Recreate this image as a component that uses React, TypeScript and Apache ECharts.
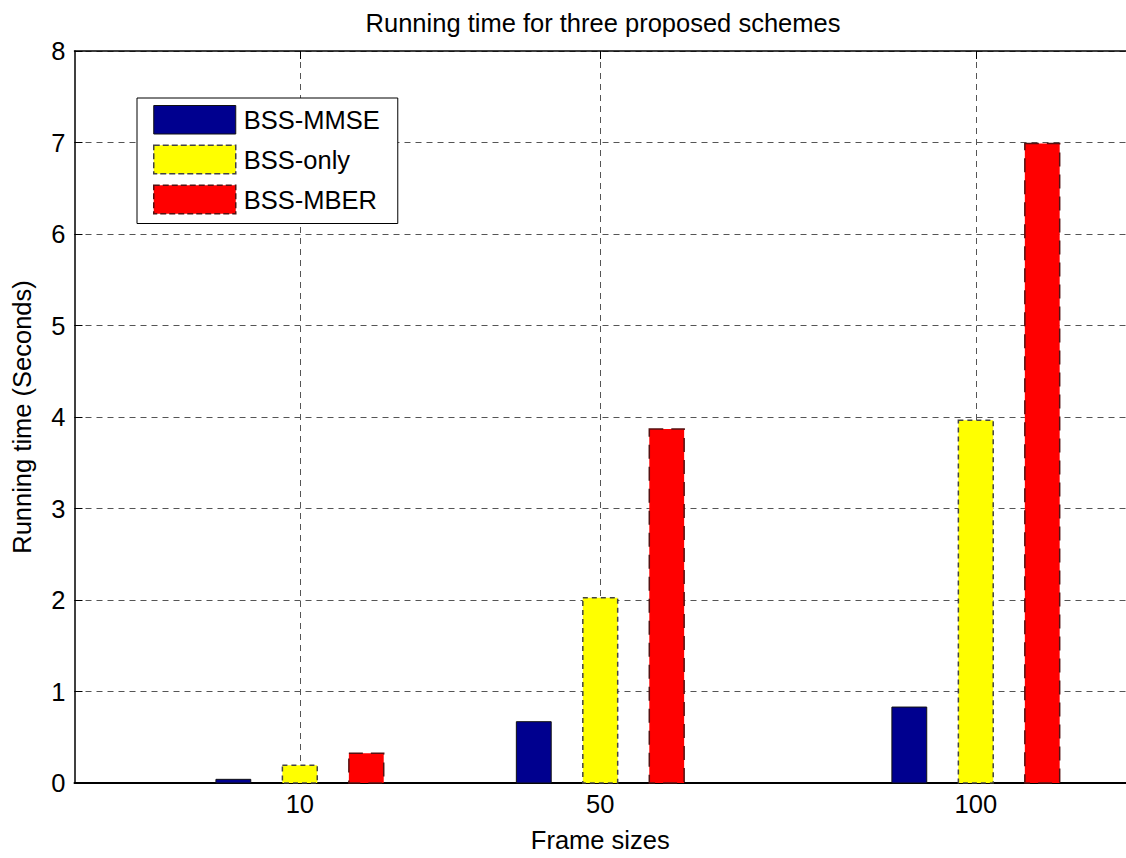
import React, { useEffect, useRef } from "react";
import * as echarts from "echarts";

const frameSizes = [10, 50, 100];
const seriesNames = ["BSS-MMSE", "BSS-only", "BSS-MBER"];
const bssMmse = [0.04, 0.67, 0.83];
const bssOnly = [0.195, 2.025, 3.965];
const bssMber = [0.325, 3.87, 6.99];
const yTicks = [0, 1, 2, 3, 4, 5, 6, 7, 8];

const FONT = "'Liberation Sans', Arial, Helvetica, sans-serif";
const FS = 25.5;
const BAR_W = 4.64; // in x-axis units
const OFFSETS = [-8.85, 0, 8.85];

const styles = [
  { fill: "#00008F", stroke: "#111111", lineWidth: 1, lineDash: null as any },
  { fill: "#FFFF00", stroke: "#444444", lineWidth: 1.5, lineDash: [5, 4] },
  { fill: "#FF0000", stroke: "#551111", lineWidth: 1.5, lineDash: [14, 8] },
];

export default function App() {
  const ref = useRef<HTMLDivElement>(null);
  useEffect(() => {
    document.body.style.margin = "0";
    const chart = echarts.init(ref.current!, undefined, { renderer: "svg" });
    const allValues = [bssMmse, bssOnly, bssMber];
    const series = allValues.map((vals, si) => ({
      name: seriesNames[si],
      type: "custom",
      xAxisIndex: 0,
      yAxisIndex: 0,
      itemStyle: {
        color: styles[si].fill,
        borderColor: styles[si].stroke,
        borderWidth: styles[si].lineWidth,
        borderType: styles[si].lineDash ? "dashed" : "solid",
      },
      data: frameSizes.map((f, i) => [f, vals[i]]),
      renderItem: (params: any, api: any) => {
        const x = api.value(0) + OFFSETS[si];
        const y = api.value(1);
        const top = api.coord([x, y]);
        const bot = api.coord([x, 0]);
        const w = api.size([BAR_W, 0])[0];
        return {
          type: "rect",
          shape: { x: top[0] - w / 2, y: top[1], width: w, height: bot[1] - top[1] },
          style: {
            fill: styles[si].fill,
            stroke: styles[si].stroke,
            lineWidth: styles[si].lineWidth,
            lineDash: styles[si].lineDash || undefined,
          },
          z2: 10,
        };
      },
      z: 5,
    }));

    chart.setOption({
      animation: false,
      backgroundColor: "#ffffff",
      textStyle: { fontFamily: FONT },
      title: {
        text: "Running time for three proposed schemes",
        left: 598,
        textAlign: "center",
        top: 5,
        textStyle: { fontFamily: FONT, fontSize: FS, fontWeight: "normal", color: "#000" },
      },
      grid: { left: 74.5, top: 51, width: 1056, height: 737.3, containLabel: false },
      legend: {
        orient: "vertical",
        left: 137,
        top: 98,
        padding: [7, 18, 9, 16],
        itemGap: 10,
        itemWidth: 82,
        itemHeight: 28.5,
        backgroundColor: "#ffffff",
        borderColor: "#000000",
        borderWidth: 1,
        icon: "rect",
        textStyle: { fontFamily: FONT, fontSize: FS, color: "#000", padding: [0, 0, 0, 3] },
        data: seriesNames.map((n, i) => ({
          name: n,
          itemStyle: {
            color: styles[i].fill,
            borderColor: styles[i].stroke,
            borderWidth: styles[i].lineWidth,
            borderType: styles[i].lineDash ? "dashed" : "solid",
          },
        })),
        z: 20,
      },
      xAxis: [
        {
          type: "value",
          min: -20,
          max: 120,
          position: "bottom",
          name: "Frame sizes",
          nameLocation: "middle",
          nameGap: 44,
          nameTextStyle: { fontFamily: FONT, fontSize: FS, color: "#000" },
          axisLine: { show: true, onZero: false, lineStyle: { color: "#000", width: 2 } },
          axisTick: { show: true, inside: true, length: 8, customValues: frameSizes, lineStyle: { color: "#000" } },
          axisLabel: { show: true, customValues: frameSizes, margin: 8, fontFamily: FONT, fontSize: FS, color: "#000" },
          splitLine: { show: true, lineStyle: { color: "#555", width: 1, type: [6, 5] } },
        },
        {
          type: "value",
          min: -20,
          max: 120,
          position: "top",
          axisLine: { show: true, onZero: false, lineStyle: { color: "#000", width: 1.5 } },
          axisTick: { show: true, inside: true, length: 8, customValues: frameSizes, lineStyle: { color: "#000" } },
          axisLabel: { show: false },
          splitLine: { show: false },
        },
      ],
      yAxis: {
        type: "value",
        min: 0,
        max: 8,
        interval: 1,
        name: "Running time (Seconds)",
        nameLocation: "middle",
        nameGap: 40,
        nameTextStyle: { fontFamily: FONT, fontSize: FS, color: "#000" },
        axisLine: { show: true, onZero: false, lineStyle: { color: "#000", width: 1.5 } },
        axisTick: { show: true, inside: true, length: 8, lineStyle: { color: "#000" } },
        axisLabel: {
          margin: 9,
          fontFamily: FONT,
          fontSize: FS,
          color: "#000",
          formatter: (v: number) => (yTicks.includes(v) ? String(v) : ""),
        },
        splitLine: { show: true, lineStyle: { color: "#555", width: 1, type: [6, 5] } },
      },
      series,
    });
    return () => chart.dispose();
  }, []);
  return <div ref={ref} style={{ width: 1126, height: 858 }} />;
}
